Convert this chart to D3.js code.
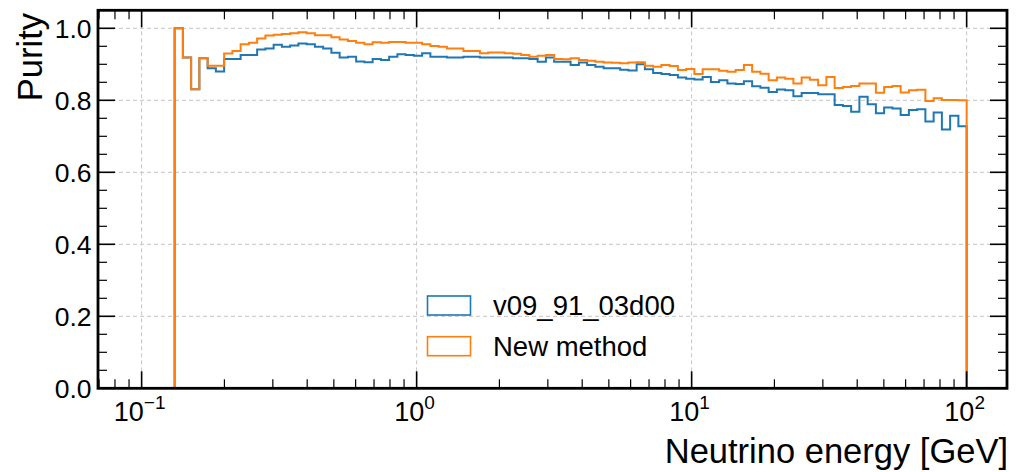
<!DOCTYPE html>
<html>
<head>
<meta charset="utf-8">
<script src="https://cdn.jsdelivr.net/npm/d3@7"></script>
<style>
  html, body { margin: 0; padding: 0; background: #fff; }
  svg { display: block; font-family: "Liberation Sans", Arial, Helvetica, sans-serif; }
</style>
</head>
<body>
<svg id="chart" width="1016" height="472"></svg>
<script>
// Binning: 100 logarithmic bins between 0.1 and 100 GeV
const binLow = 0.1, binHigh = 100, nBins = 100;

// Purity per bin (null = empty bin)
const purityReference = [
  null, null, null, null,
  1.000, 0.919, 0.831, 0.917, 0.889, 0.880, 0.915, 0.915, 0.926, 0.926,
  0.941, 0.944, 0.954, 0.949, 0.952, 0.958, 0.956, 0.949, 0.944, 0.932,
  0.919, 0.921, 0.908, 0.906, 0.915, 0.912, 0.921, 0.928, 0.926, 0.924,
  0.931, 0.921, 0.921, 0.919, 0.919, 0.921, 0.921, 0.919, 0.919, 0.919,
  0.919, 0.917, 0.917, 0.915, 0.907, 0.919, 0.907, 0.907, 0.898, 0.905,
  0.898, 0.893, 0.889, 0.889, 0.885, 0.883, 0.900, 0.886, 0.876, 0.873,
  0.870, 0.863, 0.860, 0.858, 0.865, 0.851, 0.856, 0.847, 0.845, 0.853,
  0.839, 0.835, 0.823, 0.830, 0.828, 0.811, 0.820, 0.820, 0.817, 0.817,
  0.787, 0.784, 0.768, 0.810, 0.789, 0.764, 0.780, 0.777, 0.759, 0.773,
  0.775, 0.741, 0.766, 0.719, 0.757, 0.728
];
const purityNew = [
  null, null, null, null,
  1.000, 0.919, 0.831, 0.917, 0.896, 0.896, 0.930, 0.937, 0.956, 0.960,
  0.972, 0.980, 0.982, 0.984, 0.986, 0.989, 0.986, 0.981, 0.981, 0.975,
  0.969, 0.965, 0.960, 0.956, 0.961, 0.960, 0.962, 0.962, 0.960, 0.960,
  0.956, 0.951, 0.949, 0.944, 0.944, 0.937, 0.937, 0.931, 0.933, 0.933,
  0.931, 0.929, 0.926, 0.921, 0.924, 0.926, 0.915, 0.914, 0.917, 0.912,
  0.910, 0.907, 0.905, 0.904, 0.903, 0.905, 0.906, 0.896, 0.893, 0.898,
  0.895, 0.884, 0.887, 0.873, 0.886, 0.886, 0.882, 0.879, 0.884, 0.898,
  0.879, 0.874, 0.856, 0.863, 0.860, 0.847, 0.863, 0.857, 0.842, 0.865,
  0.834, 0.837, 0.840, 0.847, 0.847, 0.821, 0.837, 0.840, 0.822, 0.828,
  0.829, 0.798, 0.806, 0.801, 0.801, 0.800
];

const seriesNames = ["v09_91_03d00", "New method"];
const seriesColors = ["#1f77b4", "#ff7f0e"];

const yTicks = [0.0, 0.2, 0.4, 0.6, 0.8, 1.0];
const yTickLabels = ["0.0", "0.2", "0.4", "0.6", "0.8", "1.0"];
const xDecadeExponents = [-1, 0, 1, 2];

const xLabel = "Neutrino energy [GeV]";
const yLabel = "Purity";

// ---- layout ----
const W = 1016, H = 472;
const plot = { left: 98, right: 1007, top: 10.3, bottom: 388.3 };

const svg = d3.select("#chart");
svg.append("rect").attr("width", W).attr("height", H).attr("fill", "#fff");

const x = d3.scaleLog().domain([0.0694, 140.2]).range([plot.left, plot.right]);
const y = d3.scaleLinear().domain([0, 1.05]).range([plot.bottom, plot.top]);

const edges = d3.range(nBins + 1).map(i => binLow * Math.pow(binHigh / binLow, i / nBins));

// ---- grid ----
const grid = svg.append("g").attr("stroke", "#c4c4c4").attr("stroke-width", 1)
  .attr("stroke-dasharray", "4,3").attr("fill", "none");
yTicks.filter(v => v > 0).forEach(v => {
  grid.append("line").attr("x1", plot.left).attr("x2", plot.right)
    .attr("y1", y(v)).attr("y2", y(v));
});
xDecadeExponents.forEach(e => {
  const xv = x(Math.pow(10, e));
  grid.append("line").attr("x1", xv).attr("x2", xv)
    .attr("y1", plot.top).attr("y2", plot.bottom);
});

// ---- step histograms ----
function stepPath(vals) {
  const p = d3.path();
  let started = false;
  vals.forEach((v, i) => {
    if (v == null) return;
    const x0 = x(edges[i]), x1 = x(edges[i + 1]);
    if (!started) { p.moveTo(x0, y(0)); p.lineTo(x0, y(v)); started = true; }
    else p.lineTo(x0, y(v));
    p.lineTo(x1, y(v));
  });
  // drop back to zero at the last filled edge
  let last = vals.length - 1;
  while (last >= 0 && vals[last] == null) last--;
  p.lineTo(x(edges[last + 1]), y(0));
  return p.toString();
}

const hists = svg.append("g").attr("fill", "none").attr("stroke-width", 2)
  .attr("stroke-linejoin", "miter");
[purityReference, purityNew].forEach((vals, k) => {
  hists.append("path").attr("d", stepPath(vals)).attr("stroke", seriesColors[k]);
});

// ---- ticks (inside, all four sides) ----
const majorLen = 17, minorLen = 9;
const ticks = svg.append("g").attr("stroke", "#000");

const yMinor = d3.range(0, 1.0501, 0.05).filter(v => !yTicks.some(t => Math.abs(t - v) < 1e-6));
yTicks.forEach(v => {
  ticks.append("line").attr("x1", plot.left).attr("x2", plot.left + majorLen)
    .attr("y1", y(v)).attr("y2", y(v)).attr("stroke-width", 1.6);
  ticks.append("line").attr("x1", plot.right).attr("x2", plot.right - majorLen)
    .attr("y1", y(v)).attr("y2", y(v)).attr("stroke-width", 1.6);
});
yMinor.forEach(v => {
  ticks.append("line").attr("x1", plot.left).attr("x2", plot.left + minorLen)
    .attr("y1", y(v)).attr("y2", y(v)).attr("stroke-width", 1.2);
  ticks.append("line").attr("x1", plot.right).attr("x2", plot.right - minorLen)
    .attr("y1", y(v)).attr("y2", y(v)).attr("stroke-width", 1.2);
});

const [dLo, dHi] = x.domain();
const xMinor = [];
for (let e = -2; e <= 2; e++) {
  for (let m = 2; m <= 9; m++) {
    const v = m * Math.pow(10, e);
    if (v >= dLo && v <= dHi) xMinor.push(v);
  }
}
xDecadeExponents.forEach(e => {
  const xv = x(Math.pow(10, e));
  ticks.append("line").attr("x1", xv).attr("x2", xv)
    .attr("y1", plot.bottom).attr("y2", plot.bottom - majorLen).attr("stroke-width", 1.6);
  ticks.append("line").attr("x1", xv).attr("x2", xv)
    .attr("y1", plot.top).attr("y2", plot.top + majorLen).attr("stroke-width", 1.6);
});
xMinor.forEach(v => {
  const xv = x(v);
  ticks.append("line").attr("x1", xv).attr("x2", xv)
    .attr("y1", plot.bottom).attr("y2", plot.bottom - minorLen).attr("stroke-width", 1.2);
  ticks.append("line").attr("x1", xv).attr("x2", xv)
    .attr("y1", plot.top).attr("y2", plot.top + minorLen).attr("stroke-width", 1.2);
});

// ---- frame ----
svg.append("rect").attr("x", plot.left).attr("y", plot.top)
  .attr("width", plot.right - plot.left).attr("height", plot.bottom - plot.top)
  .attr("fill", "none").attr("stroke", "#000").attr("stroke-width", 2.8);

// ---- tick labels ----
const yLab = svg.append("g").attr("font-size", 26.5).attr("fill", "#000").attr("text-anchor", "end");
yTicks.forEach((v, i) => {
  yLab.append("text").attr("x", plot.left - 6.5).attr("y", y(v))
    .attr("dy", "0.36em").text(yTickLabels[i]);
});

const xLab = svg.append("g").attr("font-size", 27).attr("fill", "#000").attr("text-anchor", "middle");
xDecadeExponents.forEach(e => {
  const t = xLab.append("text").attr("x", x(Math.pow(10, e)) - 2).attr("y", 420.5);
  t.append("tspan").text("10");
  t.append("tspan").attr("font-size", 19).attr("dy", -11.5)
    .text(e < 0 ? "\u2212" + Math.abs(e) : String(e));
});

// ---- axis titles ----
svg.append("text").attr("x", plot.right + 1).attr("y", 463)
  .attr("text-anchor", "end").attr("font-size", 34.5).text(xLabel);
svg.append("text").attr("transform", "translate(42,13) rotate(-90)")
  .attr("text-anchor", "end").attr("font-size", 34.5).text(yLabel);

// ---- legend ----
const legend = svg.append("g");
seriesNames.forEach((name, i) => {
  const ly = 296 + i * 40.7;
  legend.append("rect").attr("x", 427.5).attr("y", ly).attr("width", 43).attr("height", 19)
    .attr("fill", "none").attr("stroke", seriesColors[i]).attr("stroke-width", 1.6);
  legend.append("text").attr("x", 493).attr("y", ly + 19)
    .attr("font-size", 27.5).attr("fill", "#000").text(name);
});
</script>
</body>
</html>
